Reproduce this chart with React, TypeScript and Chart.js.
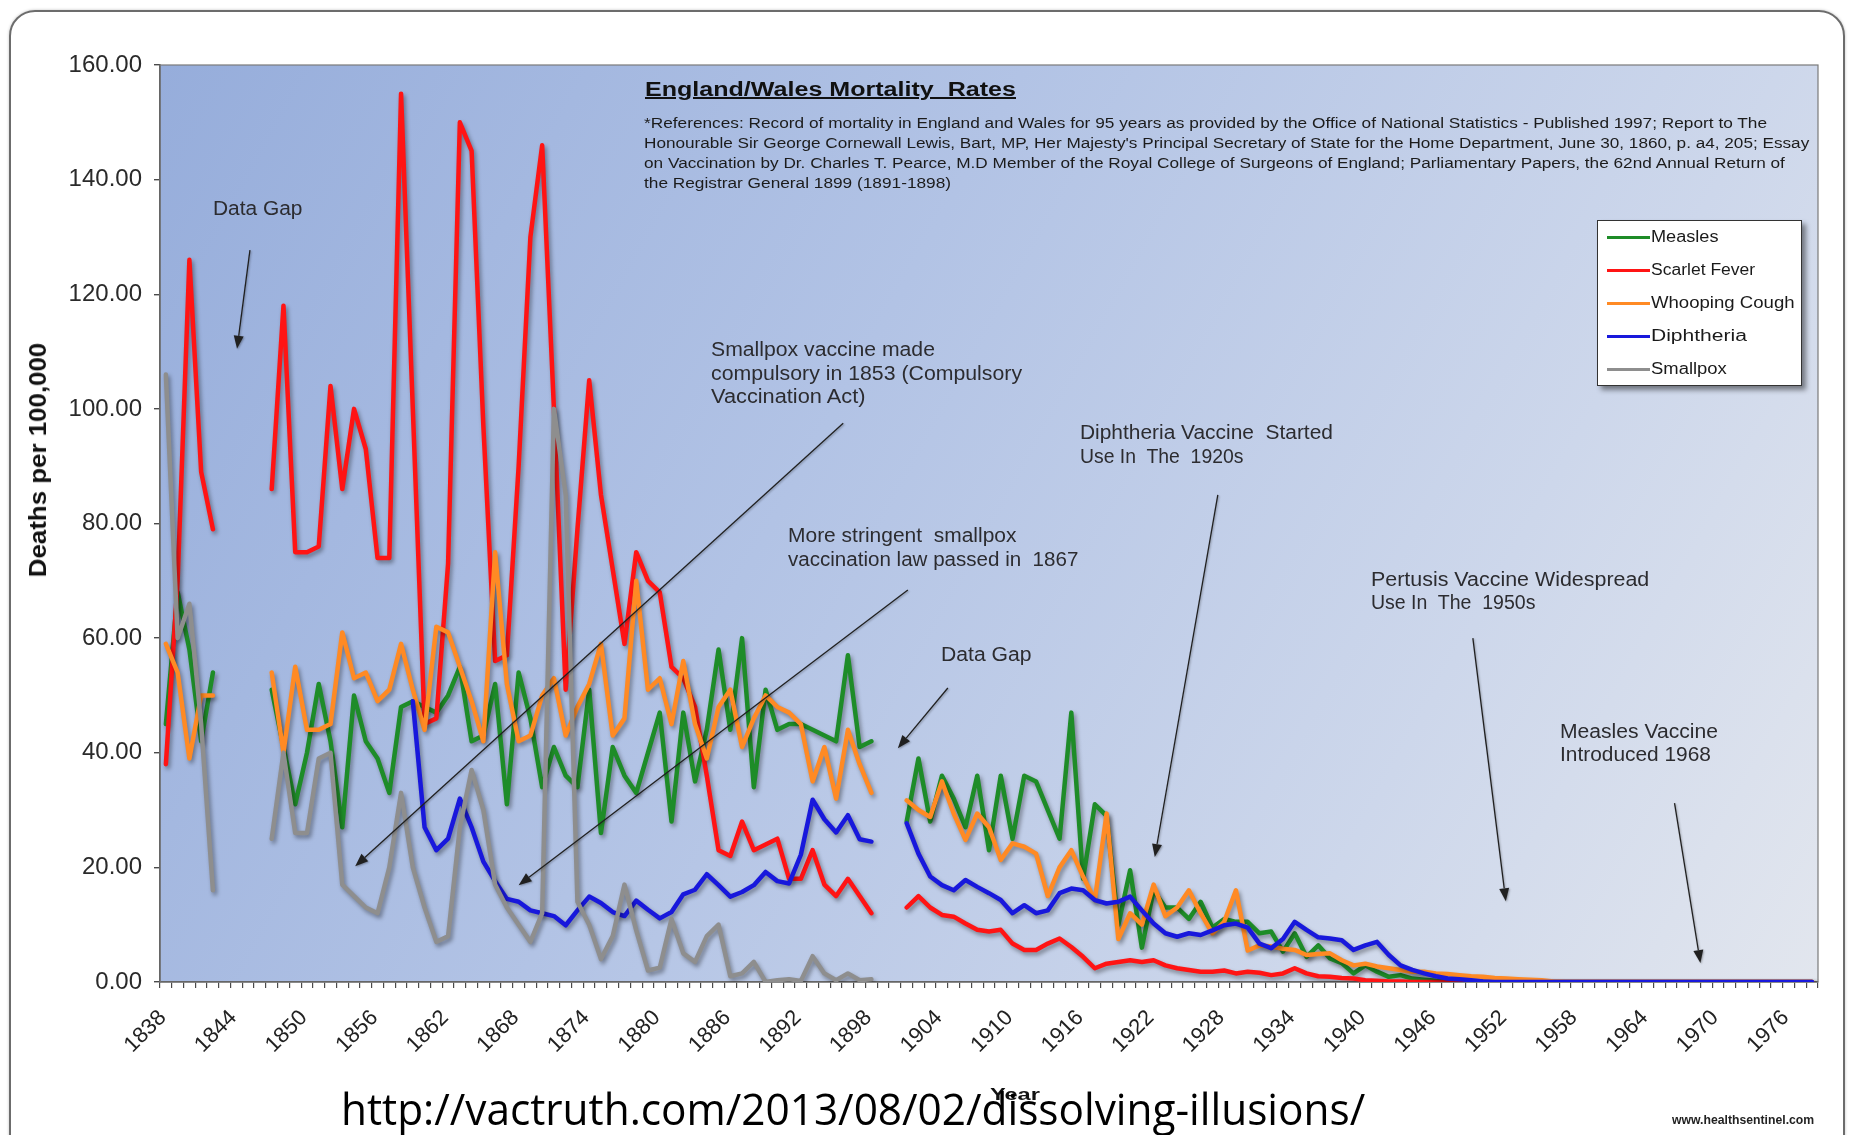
import React, { useEffect, useLayoutEffect, useRef, useState } from "react";
import { Chart, registerables } from "chart.js";

Chart.register(...registerables);

// ---------------- DATA ----------------
const FIRST_YEAR = 1838;
const LAST_YEAR = 1978;
const years: string[] = [];
for (let y = FIRST_YEAR; y <= LAST_YEAR; y++) years.push(String(y));
const LABEL_STEP = 6;

const measles: (number | null)[] = [
  45, 68, 58, 42, 54, null, null, null, null, 51, // 1838-1847
  41, 31, 40, 52, 42, 27, 50, 42, 39, 33, // 1848-1857
  48, 49, 48, 47, 50, 55, 42, 43, 52, 31, // 1858-1867
  54, 46, 34, 41, 36, 34, 51, 26, 41, 36, // 1868-1877
  33, 40, 47, 28, 47, 35, 44, 58, 44, 60, // 1878-1887
  34, 51, 44, 45, 45, 44, 43, 42, 57, 41, // 1888-1897
  42, null, null, 28, 39, 28, 36, 32, 27, 36, // 1898-1907
  23, 36, 25, 36, 35, 30, 25, 47, 18, 31, // 1908-1917
  29, 10, 19.5, 6, 16, 13, 13, 11, 14, 9.5, // 1918-1927
  11, 10.5, 10.5, 8.5, 8.8, 5.3, 8.5, 4.4, 6.4, 4.1, // 1928-1937
  3.3, 1.5, 2.9, 1.8, 0.9, 1.2, 0.6, 0.4, 0.2, 0.1, // 1938-1947
  0, 0, 0, 0, 0, 0, 0, 0, 0, 0, // 1948-1957
  0, 0, 0, 0, 0, 0, 0, 0, 0, 0, // 1958-1967
  0, 0, 0, 0, 0, 0, 0, 0, 0, 0, // 1968-1977
  0, // 1978
];

const scarletFever: (number | null)[] = [
  38, 70, 126, 89, 79, null, null, null, null, 86, // 1838-1847
  118, 75, 75, 76, 104, 86, 100, 93, 74, 74, // 1848-1857
  155, 100, 45, 46, 73, 150, 145, 97, 56, 57, // 1858-1867
  90, 130, 146, 100, 51, 79, 105, 85, 72, 59, // 1868-1877
  75, 70, 68, 55, 53, 48, 36, 23, 22, 28, // 1878-1887
  23, 24, 25, 18, 18, 23, 17, 15, 18, 15, // 1888-1897
  12, null, null, 13, 15, 13, 11.7, 11.4, 10.2, 9.1, // 1898-1907
  8.8, 9.1, 6.7, 5.6, 5.6, 6.7, 7.6, 6.1, 4.4, 2.4, // 1908-1917
  3.2, 3.5, 3.8, 3.5, 3.8, 2.9, 2.4, 2.1, 1.8, 1.8, // 1918-1927
  2.0, 1.5, 1.8, 1.6, 1.2, 1.5, 2.4, 1.5, 1.0, 0.9, // 1928-1937
  0.7, 0.6, 0.3, 0.2, 0.1, 0.1, 0, 0, 0, 0, // 1938-1947
  0, 0, 0, 0, 0, 0, 0, 0, 0, 0, // 1948-1957
  0, 0, 0, 0, 0, 0, 0, 0, 0, 0, // 1958-1967
  0, 0, 0, 0, 0, 0, 0, 0, 0, 0, // 1968-1977
  0, // 1978
];

const whoopingCough: (number | null)[] = [
  59, 54, 39, 50, 50, null, null, null, null, 54, // 1838-1847
  40, 55, 44, 44, 45, 61, 53, 54, 49, 51, // 1848-1857
  59, 51, 44, 62, 61, 55, 49, 42, 75, 52, // 1858-1867
  42, 43, 50, 53, 43, 48, 52, 59, 43, 46, // 1868-1877
  70, 51, 53, 45, 56, 45, 39, 48, 51, 41, // 1878-1887
  46, 50, 48, 47, 45, 35, 41, 32, 44, 38, // 1888-1897
  33, null, null, 31.7, 30, 28.8, 35, 29.4, 24.8, 29.4, // 1898-1907
  27, 21.3, 24.2, 23.6, 22.4, 15, 20, 23, 18.4, 14.3, // 1908-1917
  29.4, 7.5, 12, 10, 17, 11.5, 13, 16, 12, 8.5, // 1918-1927
  10.5, 16, 5.5, 6.4, 6.2, 5.8, 5.6, 4.7, 4.9, 5, // 1928-1937
  3.8, 2.9, 3.2, 2.7, 2.4, 2.1, 1.8, 1.8, 1.5, 1.4, // 1938-1947
  1.2, 1.0, 0.9, 0.7, 0.6, 0.5, 0.4, 0.3, 0.1, 0, // 1948-1957
  0, 0, 0, 0, 0, 0, 0, 0, 0, 0, // 1958-1967
  0, 0, 0, 0, 0, 0, 0, 0, 0, 0, // 1968-1977
  0, // 1978
];

const diphtheria: (number | null)[] = [
  null, null, null, null, null, null, null, null, null, null, // 1838-1847
  null, null, null, null, null, null, null, null, null, null, // 1848-1857
  null, 49, 27, 23, 25, 32, 27, 21, 17.6, 14.5, // 1858-1867
  14, 12.5, 12, 11.5, 9.9, 12.5, 14.9, 13.8, 12.2, 11.5, // 1868-1877
  14.2, 12.6, 11.1, 12.2, 15.3, 16.1, 18.8, 16.9, 14.9, 15.7, // 1878-1887
  16.9, 19.2, 17.6, 17.2, 22.2, 31.8, 28.4, 26.1, 29.1, 24.9, // 1888-1897
  24.5, null, null, 27.7, 22.4, 18.4, 16.9, 16, 17.8, 16.6, // 1898-1907
  15.5, 14.3, 12, 13.4, 12, 12.5, 15.5, 16.3, 16, 14.3, // 1908-1917
  13.7, 14, 14.9, 12.5, 10.2, 8.5, 7.9, 8.5, 8.2, 9, // 1918-1927
  9.9, 10.2, 9.5, 6.7, 5.9, 7.5, 10.5, 9.1, 7.8, 7.6, // 1928-1937
  7.3, 5.6, 6.4, 7, 4.7, 2.9, 2.1, 1.5, 1.0, 0.6, // 1938-1947
  0.5, 0.3, 0.1, 0, 0, 0, 0, 0, 0, 0, // 1948-1957
  0, 0, 0, 0, 0, 0, 0, 0, 0, 0, // 1958-1967
  0, 0, 0, 0, 0, 0, 0, 0, 0, 0, // 1968-1977
  0, // 1978
];

const smallpox: (number | null)[] = [
  106, 60, 66, 45, 16, null, null, null, null, 25, // 1838-1847
  40, 26, 26, 39, 40, 17, 15, 13, 12, 20, // 1848-1857
  33, 20, 13, 7, 8, 27, 37, 30, 17, 13, // 1858-1867
  10, 7, 12, 100, 85, 14, 10, 4, 8, 17, // 1868-1877
  9, 2, 2.5, 11, 5, 3.5, 8, 10, 1, 1.5, // 1878-1887
  3.5, 0, 0.3, 0.5, 0.2, 4.5, 1.5, 0.3, 1.5, 0.3, // 1888-1897
  0.5, // 1898
];

const seriesNames = ["Measles", "Scarlet Fever", "Whooping Cough", "Diphtheria", "Smallpox"];
const seriesData = [measles, scarletFever, whoopingCough, diphtheria, smallpox];
const seriesColors = ["#1e8c28", "#ff1414", "#ff8a24", "#1818dc", "#8e8e8e"];

// annotation arrows in data coordinates: [category index, value]
const annotationArrows: { from: [number, number]; to: [number, number] }[] = [
  { from: [7.15, 127.7], to: [6.05, 110.5] },
  { from: [57.6, 97.5], to: [16.1, 20.2] },
  { from: [63.1, 68.4], to: [30.0, 16.9] },
  { from: [66.5, 51.3], to: [62.25, 40.8] },
  { from: [89.46, 85.0], to: [84.1, 21.8] },
  { from: [111.15, 60.0], to: [113.95, 14.1] },
  { from: [128.3, 31.2], to: [130.5, 3.3] },
];

// ---------------- LAYOUT ----------------
const W = 1851;
const H = 1135;
const PLOT_LEFT = 160;
const PLOT_TOP = 65;
const PLOT_RIGHT = 1818;
const PLOT_BOTTOM = 982;
const SANS = '"Liberation Sans", Arial, Helvetica, sans-serif';

const bgPlugin = {
  id: "plotBg",
  beforeDraw(chart: any) {
    const { ctx, chartArea: a } = chart;
    const g = ctx.createLinearGradient(a.left, a.top, a.right, a.bottom);
    g.addColorStop(0, "#96addb");
    g.addColorStop(0.4, "#b2c3e5");
    g.addColorStop(0.75, "#cdd7eb");
    g.addColorStop(1, "#e2e6ee");
    ctx.save();
    ctx.fillStyle = g;
    ctx.fillRect(a.left, a.top, a.right - a.left, a.bottom - a.top);
    ctx.restore();
  },
  beforeDatasetsDraw(chart: any) {
    const { ctx, chartArea: a } = chart;
    ctx.save();
    ctx.strokeStyle = "#7a7a7a";
    ctx.lineWidth = 1.2;
    ctx.strokeRect(a.left, a.top, a.right - a.left, a.bottom - a.top);
    ctx.restore();
  },
};

const shadowPlugin = {
  id: "lineShadow",
  beforeDatasetDraw(chart: any) {
    const ctx = chart.ctx;
    ctx.save();
    ctx.shadowColor = "rgba(0,0,0,0.38)";
    ctx.shadowBlur = 4;
    ctx.shadowOffsetX = 2;
    ctx.shadowOffsetY = 3;
  },
  afterDatasetDraw(chart: any) {
    chart.ctx.restore();
  },
};

const arrowPlugin = {
  id: "arrows",
  afterDatasetsDraw(chart: any) {
    const { ctx } = chart;
    const xs = chart.scales.x;
    const ys = chart.scales.y;
    ctx.save();
    ctx.strokeStyle = "#202020";
    ctx.fillStyle = "#202020";
    ctx.lineWidth = 1.3;
    ctx.shadowColor = "rgba(0,0,0,0.3)";
    ctx.shadowBlur = 2;
    ctx.shadowOffsetX = 1;
    ctx.shadowOffsetY = 1;
    for (const a of annotationArrows) {
      const x1 = xs.getPixelForValue(a.from[0]);
      const y1 = ys.getPixelForValue(a.from[1]);
      const x2 = xs.getPixelForValue(a.to[0]);
      const y2 = ys.getPixelForValue(a.to[1]);
      const ang = Math.atan2(y2 - y1, x2 - x1);
      const L = 13;
      const hw = 5;
      const bx = x2 - L * Math.cos(ang);
      const by = y2 - L * Math.sin(ang);
      ctx.beginPath();
      ctx.moveTo(x1, y1);
      ctx.lineTo(bx, by);
      ctx.stroke();
      ctx.beginPath();
      ctx.moveTo(x2, y2);
      ctx.lineTo(bx + hw * Math.sin(ang), by - hw * Math.cos(ang));
      ctx.lineTo(bx - hw * Math.sin(ang), by + hw * Math.cos(ang));
      ctx.closePath();
      ctx.fill();
    }
    ctx.restore();
  },
};

// ---------------- TEXT HELPERS ----------------
function FitText(props: {
  x: number;
  cy?: number;
  top?: number;
  w: number;
  size: number;
  text: string;
  bold?: boolean;
  family?: string;
  color?: string;
  underline?: boolean;
}) {
  const { x, cy, top, w, size, text, bold, family, color, underline } = props;
  const ref = useRef<HTMLSpanElement>(null);
  const [sx, setSx] = useState(1);
  useLayoutEffect(() => {
    const measure = () => {
      const el = ref.current;
      if (el && el.offsetWidth) setSx(w / el.offsetWidth);
    };
    measure();
    const f: any = (document as any).fonts;
    if (f && f.ready) f.ready.then(measure);
  }, [w, size, text]);
  return (
    <span
      ref={ref}
      style={{
        position: "absolute",
        left: x,
        top: top !== undefined ? top : (cy as number) - size / 2,
        fontSize: size,
        lineHeight: `${size}px`,
        fontFamily: family || SANS,
        fontWeight: bold ? 700 : 400,
        color: color || "#2e2e2e",
        whiteSpace: "pre",
        transform: `scaleX(${sx})`,
        transformOrigin: "0 0",
        textDecoration: underline ? "underline" : "none",
      }}
    >
      {text}
    </span>
  );
}

function VerticalTitle(props: { cx: number; cy: number; len: number; size: number; text: string }) {
  const { cx, cy, len, size, text } = props;
  const ref = useRef<HTMLSpanElement>(null);
  const [sx, setSx] = useState(1);
  useLayoutEffect(() => {
    const measure = () => {
      const el = ref.current;
      if (el && el.offsetWidth) setSx(len / el.offsetWidth);
    };
    measure();
    const f: any = (document as any).fonts;
    if (f && f.ready) f.ready.then(measure);
  }, [len, size, text]);
  return (
    <span
      ref={ref}
      style={{
        position: "absolute",
        left: cx,
        top: cy,
        fontSize: size,
        lineHeight: `${size}px`,
        fontFamily: SANS,
        fontWeight: 700,
        color: "#111",
        whiteSpace: "pre",
        transform: `translate(-50%, -50%) rotate(-90deg) scaleX(${sx})`,
        transformOrigin: "50% 50%",
      }}
    >
      {text}
    </span>
  );
}

const references = [
  "*References: Record of mortality in England and Wales for 95 years as provided by the Office of National Statistics - Published 1997; Report to The",
  "Honourable Sir George Cornewall Lewis, Bart, MP, Her Majesty's Principal Secretary of State for the Home Department, June 30, 1860, p. a4, 205; Essay",
  "on Vaccination by Dr. Charles T. Pearce, M.D Member of the Royal College of Surgeons of England; Parliamentary Papers, the 62nd Annual Return of",
  "the Registrar General 1899 (1891-1898)",
];
const referenceWidths = [1123, 1165, 1141, 307];

const annotations: { text: string; x: number; cy: number; w: number }[] = [
  { text: "Data Gap", x: 213, cy: 209, w: 89 },
  { text: "Smallpox vaccine made", x: 711, cy: 350, w: 224 },
  { text: "compulsory in 1853 (Compulsory", x: 711, cy: 374, w: 311 },
  { text: "Vaccination Act)", x: 711, cy: 397, w: 154 },
  { text: "More stringent  smallpox", x: 788, cy: 536, w: 228 },
  { text: "vaccination law passed in  1867", x: 788, cy: 560, w: 290 },
  { text: "Data Gap", x: 941, cy: 655, w: 90 },
  { text: "Diphtheria Vaccine  Started", x: 1080, cy: 433, w: 253 },
  { text: "Use In  The  1920s", x: 1080, cy: 457, w: 163 },
  { text: "Pertusis Vaccine Widespread", x: 1371, cy: 580, w: 278 },
  { text: "Use In  The  1950s", x: 1371, cy: 603, w: 164 },
  { text: "Measles Vaccine", x: 1560, cy: 732, w: 158 },
  { text: "Introduced 1968", x: 1560, cy: 755, w: 151 },
];

const legendWidths = [68, 104, 144, 96, 76];

export default function App() {
  const canvasRef = useRef<HTMLCanvasElement>(null);

  useEffect(() => {
    const canvas = canvasRef.current;
    if (!canvas) return;
    const n = seriesNames.length;
    const chart = new Chart(canvas, {
      type: "line",
      data: {
        labels: years,
        datasets: seriesNames.map((name, i) => ({
          label: name,
          data: seriesData[i],
          borderColor: seriesColors[i],
          backgroundColor: seriesColors[i],
          borderWidth: 4.5,
          pointRadius: 0,
          tension: 0,
          spanGaps: false,
          fill: false,
          order: n - 1 - i,
          borderJoinStyle: "round" as const,
          borderCapStyle: "round" as const,
        })),
      },
      options: {
        responsive: false,
        animation: false,
        devicePixelRatio: 1,
        layout: {
          padding: { left: 0, top: PLOT_TOP, right: W - PLOT_RIGHT, bottom: 0 },
        },
        plugins: {
          legend: { display: false },
          tooltip: { enabled: false },
          title: { display: false },
        },
        scales: {
          x: {
            type: "category",
            offset: true,
            grid: {
              display: true,
              drawOnChartArea: false,
              drawTicks: true,
              tickLength: 6,
              color: "#4a4a4a",
              lineWidth: 1.2,
              offset: true,
            },
            border: { display: true, color: "#4a4a4a", width: 1.6 },
            ticks: {
              autoSkip: false,
              maxRotation: 45,
              minRotation: 45,
              padding: 17,
              labelOffset: -3,
              color: "#222",
              font: { family: SANS, size: 22 },
              callback: (_v: any, i: number) => (i % LABEL_STEP === 0 ? years[i] : ""),
            },
            afterFit: (s: any) => {
              s.height = H - PLOT_BOTTOM;
            },
          },
          y: {
            type: "linear",
            min: 0,
            max: 160,
            grid: {
              display: true,
              drawOnChartArea: false,
              drawTicks: true,
              tickLength: 6,
              color: "#4a4a4a",
              lineWidth: 1.4,
            },
            border: { display: true, color: "#4a4a4a", width: 1.6 },
            ticks: {
              stepSize: 20,
              padding: 12,
              color: "#2a2a2a",
              font: { family: SANS, size: 24 },
              callback: (v: any) => Number(v).toFixed(2),
            },
            afterFit: (s: any) => {
              s.width = PLOT_LEFT;
            },
          },
        },
      },
      plugins: [bgPlugin, shadowPlugin, arrowPlugin],
    } as any);
    return () => chart.destroy();
  }, []);

  const legendRowsY = [237, 270, 303, 336, 369];

  return (
    <div
      style={{
        position: "fixed",
        left: 0,
        top: 0,
        width: W,
        height: H,
        overflow: "hidden",
        background: "#ffffff",
      }}
    >
      {/* outer rounded frame */}
      <div
        style={{
          position: "absolute",
          left: 9,
          top: 10,
          width: 1836,
          height: 1200,
          border: "2px solid #6c6c6c",
          borderRadius: 26,
          boxShadow: "0 0 3px rgba(0,0,0,0.25)",
          boxSizing: "border-box",
        }}
      />
      <canvas
        ref={canvasRef}
        width={W}
        height={H}
        style={{ position: "absolute", left: 0, top: 0, width: W, height: H }}
      />

      {/* Title + references */}
      <FitText x={645} cy={89} w={371} size={20} bold underline color="#111" text="England/Wales Mortality  Rates" />
      {references.map((t, i) => (
        <FitText key={i} x={644} cy={123 + i * 20} w={referenceWidths[i]} size={14} color="#1c1c1c" text={t} />
      ))}

      {/* Annotations */}
      {annotations.map((a, i) => (
        <FitText key={i} x={a.x} cy={a.cy} w={a.w} size={19.5} color="#2c2c30" text={a.text} />
      ))}

      {/* Legend */}
      <div
        style={{
          position: "absolute",
          left: 1597,
          top: 220,
          width: 205,
          height: 166,
          background: "#ffffff",
          border: "1.5px solid #333",
          boxShadow: "4px 4px 5px rgba(0,0,0,0.45)",
          boxSizing: "border-box",
        }}
      />
      {seriesNames.map((name, i) => (
        <React.Fragment key={name}>
          <div
            style={{
              position: "absolute",
              left: 1607,
              top: legendRowsY[i] - 1.5,
              width: 43,
              height: 3,
              background: seriesColors[i],
            }}
          />
          <FitText x={1651} cy={legendRowsY[i]} w={legendWidths[i]} size={16} color="#1a1a1a" text={name} />
        </React.Fragment>
      ))}

      {/* Axis titles */}
      <VerticalTitle cx={38} cy={460} len={234} size={24} text="Deaths per 100,000" />
      <FitText x={990} cy={1094} w={50} size={17} bold color="#111" text="Year" />

      {/* Footer texts */}
      <FitText
        x={341}
        top={1086}
        w={1024}
        size={44}
        family='"Open Sans", "Noto Sans", sans-serif'
        color="#000"
        text="http://vactruth.com/2013/08/02/dissolving-illusions/"
      />
      <FitText x={1672} cy={1119} w={142} size={13} bold color="#222" text="www.healthsentinel.com" />
    </div>
  );
}
